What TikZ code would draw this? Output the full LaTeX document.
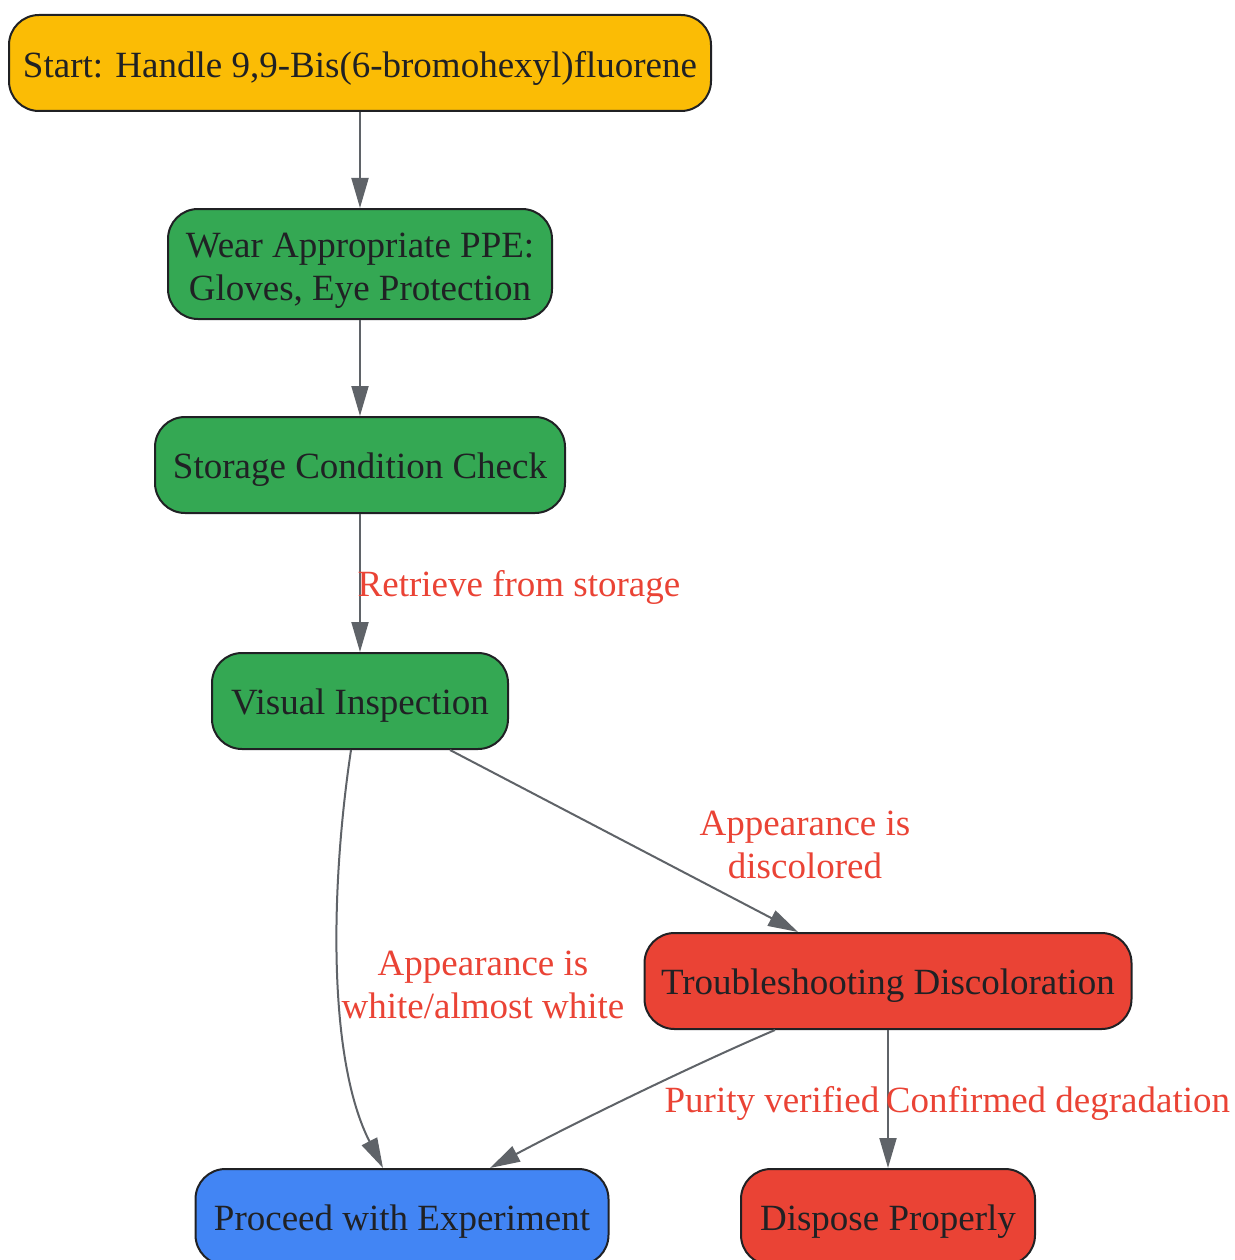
\documentclass[tikz,border=0pt]{standalone}
\usepackage{fontspec}
\setmainfont{Liberation Serif}
\usetikzlibrary{arrows.meta}
\definecolor{cyellow}{HTML}{FBBC05}
\definecolor{cgreen}{HTML}{34A853}
\definecolor{cred}{HTML}{EA4335}
\definecolor{cblue}{HTML}{4285F4}
\definecolor{cedge}{HTML}{5F6368}
\definecolor{ctext}{HTML}{202124}
\definecolor{clabel}{HTML}{EA4335}
\newcommand{\lowtxt}[1]{\raisebox{-5pt}[\height][\depth]{#1}}
\tikzset{
  x=1pt,y=-1pt,
  box/.style={draw=ctext, line width=2pt, rounded corners=30pt, inner sep=0pt,
    align=center, text=ctext, font=\fontsize{37}{43}\selectfont},
  conn/.style={draw=cedge, line width=2pt, -{Triangle[length=30pt,width=17pt]}},
  lbl/.style={text=clabel, align=center, font=\fontsize{37}{43}\selectfont, inner sep=0pt},
}
\begin{document}
\begin{tikzpicture}
\useasboundingbox (0,0) rectangle (1234,1260);
\node[box, fill=cyellow, minimum width=702pt, minimum height=96pt] (start) at (360,63) {\lowtxt{Start: Handle 9,9-Bis(6-bromohexyl)fluorene}};
\node[box, fill=cgreen, minimum width=384pt, minimum height=110pt] (ppe) at (360,264) {\rule{0pt}{37pt}Wear Appropriate PPE:\\Gloves, Eye Protection};
\node[box, fill=cgreen, minimum width=410pt, minimum height=96pt] (stor) at (360,465) {\lowtxt{Storage Condition Check}};
\node[box, fill=cgreen, minimum width=296pt, minimum height=96pt] (vis) at (360,701) {\lowtxt{Visual Inspection}};
\node[box, fill=cred, minimum width=487pt, minimum height=96pt] (trb) at (888,981) {\lowtxt{Troubleshooting Discoloration}};
\node[box, fill=cblue, minimum width=413pt, minimum height=96pt] (proc) at (402,1217) {\lowtxt{Proceed with Experiment}};
\node[box, fill=cred, minimum width=294pt, minimum height=96pt] (disp) at (888,1217) {\lowtxt{Dispose Properly}};

\draw[conn] (start.south) -- (ppe.north);
\draw[conn] (ppe.south) -- (stor.north);
\draw[conn] (stor.south) -- (vis.north);
\draw[conn] ([xshift=90pt]vis.south) -- ([xshift=-90pt]trb.north);
\draw[conn] ([xshift=-9pt]vis.south) .. controls (330,890) and (328,1060) .. ([xshift=-19pt]proc.north);
\draw[conn] ([xshift=-113pt]trb.south) .. controls (700,1062) and (580,1120) .. ([xshift=88pt]proc.north);
\draw[conn] (trb.south) -- (disp.north);

\node[lbl] (l1) at (519,587) {Retrieve from storage};
\node[lbl] (l2) at (805,845) {Appearance is\\discolored};
\node[lbl] (l3) at (483,985) {Appearance is\\white/almost white};
\node[lbl] (l4) at (772,1103) {Purity verified};
\node[lbl] (l5) at (1058,1103) {Confirmed degradation};
\end{tikzpicture}
\end{document}
